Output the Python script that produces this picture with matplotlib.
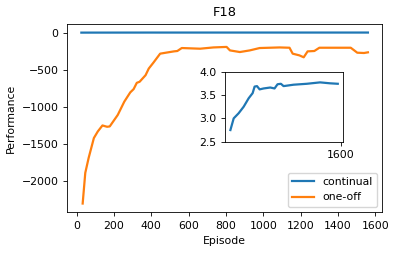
import matplotlib
matplotlib.use("Agg")
import matplotlib.pyplot as plt

plt.rcParams["font.size"] = 7.8
plt.rcParams["axes.linewidth"] = 0.6
plt.rcParams["xtick.major.width"] = 0.6
plt.rcParams["ytick.major.width"] = 0.6
plt.rcParams["xtick.major.size"] = 2.7
plt.rcParams["ytick.major.size"] = 2.7

# continual agent
ep_cont = [25, 72, 143, 215, 286, 343, 371, 405, 443, 500, 595, 656, 699, 747,
           785, 927, 1118, 1307, 1450, 1560]
perf_cont = [2.75, 3.0, 3.11, 3.25, 3.43, 3.54, 3.68, 3.69, 3.62, 3.64, 3.66, 3.64,
             3.73, 3.74, 3.69, 3.72, 3.74, 3.77, 3.75, 3.74]

# one-off agent
ep_oneoff = [32, 46, 64, 92, 113, 138, 163, 177, 220, 255, 287, 305, 322, 337, 369,
             386, 411, 447, 468, 521, 539, 563, 661, 732, 803, 821, 874, 927, 980,
             1087, 1140, 1157, 1193, 1216, 1237, 1273, 1300, 1468, 1503, 1539, 1560]
perf_oneoff = [-2302, -1888, -1687, -1419, -1330, -1249, -1267, -1262, -1107, -928,
               -803, -759, -674, -660, -571, -482, -402, -281, -272, -250, -245, -205,
               -214, -197, -190, -237, -259, -237, -205, -197, -201, -281, -304, -330,
               -250, -245, -201, -201, -268, -272, -263]

fig = plt.figure(figsize=(3.99, 2.54), dpi=100)
ax = fig.add_axes([0.168, 0.165, 0.79, 0.7405])
ax.plot(ep_cont, perf_cont, color="#1f77b4", lw=1.6, label="continual")
ax.plot(ep_oneoff, perf_oneoff, color="#ff7f0e", lw=1.6, label="one-off")
ax.set_xticks(range(0, 1601, 200))
ax.set_yticks([0, -500, -1000, -1500, -2000])
ax.set_title("F18")
ax.set_xlabel("Episode")
ax.set_ylabel("Performance")
ax.legend(loc="lower right")

ins = fig.add_axes([0.564, 0.442, 0.296, 0.276])
ins.plot(ep_cont, perf_cont, color="#1f77b4", lw=1.6)
ins.set_xlim(ax.get_xlim())
ins.set_ylim(2.5, 4.0)
ins.set_xticks([1600])
ins.set_yticks([2.5, 3.0, 3.5, 4.0])

fig.savefig("out.png", dpi=100)
